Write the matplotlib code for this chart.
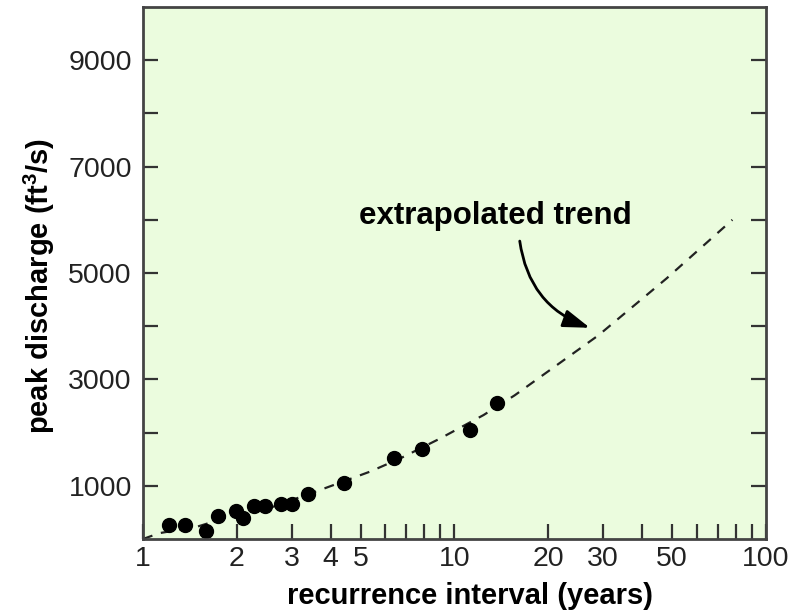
import numpy as np
import matplotlib
matplotlib.use('Agg')
import matplotlib.pyplot as plt

plt.rcParams['font.family'] = ['Liberation Sans', 'DejaVu Sans']
plt.rcParams['mathtext.fontset'] = 'custom'
plt.rcParams['mathtext.bf'] = 'Liberation Sans:bold'

# observed floods: recurrence interval (years) and peak discharge (ft3/s)
interval = [1.21, 1.36, 1.59, 1.74, 1.99, 2.09, 2.28, 2.47, 2.77, 3.02,
            3.39, 4.43, 6.39, 7.88, 11.2, 13.7]
discharge = [263, 263, 156, 438, 532, 400, 626, 626, 652, 652,
             846, 1047, 1528, 1686, 2050, 2551]

# dashed trend line
trend_x = [1.0, 1.13, 1.49, 1.9, 2.6, 3.7, 5.35, 6.7, 9.0, 12.4, 15.6, 29, 48, 78]
trend_y = [0, 110, 230, 420, 600, 920, 1265, 1515, 1890, 2330, 2700, 3830, 4900, 6000]

xtick_major = [1, 2, 3, 4, 5, 10, 20, 30, 50, 100]
xtick_minor = [6, 7, 8, 9, 40, 60, 70, 80, 90]
ytick_major = [1000, 3000, 5000, 7000, 9000]
ytick_minor = [2000, 4000, 6000, 8000]

fig = plt.figure(figsize=(7.96, 6.15), dpi=100)
ax = fig.add_axes([0.1796, 0.1236, 0.7827, 0.865])
ax.set_facecolor('#ebfcde')

ax.plot(trend_x, trend_y, '--', color='#222222', lw=1.6, dashes=(4.5, 4))
ax.plot(interval, discharge, 'o', color='black', ms=10)

ax.set_xscale('log')
ax.set_xlim(1, 100)
ax.set_ylim(0, 10000)

ax.set_xticks(xtick_major)
ax.set_xticklabels([str(v) for v in xtick_major])
ax.set_xticks(xtick_minor, minor=True)
ax.set_yticks(ytick_major)
ax.set_yticklabels([str(v) for v in ytick_major])
ax.set_yticks(ytick_minor, minor=True)

for which in ['major', 'minor']:
    ax.tick_params(axis='x', which=which, direction='in', length=11, width=1.6,
                   color='#333333', labelsize=20.5, labelcolor='#222222', pad=5)
    ax.tick_params(axis='y', which=which, direction='in', length=11, width=1.6,
                   color='#333333', labelsize=20.5, labelcolor='#222222', pad=8,
                   right=True)

for s in ax.spines.values():
    s.set_linewidth(2)
    s.set_color('#444444')

ax.set_xlabel('recurrence interval (years)', fontsize=21, fontweight='bold', labelpad=7)
ax.set_ylabel(r'peak discharge (ft$^{\mathbf{3}}$/s)', fontsize=21, fontweight='bold', labelpad=8)
ax.xaxis.label.set_x(0.525)
ax.yaxis.label.set_y(0.475)

ax.text(13.5, 6070, 'extrapolated trend', fontsize=22.5, fontweight='bold',
        ha='center', va='center')
ax.annotate('', xy=(27.2, 3970), xytext=(16.2, 5600),
            arrowprops=dict(arrowstyle='-|>,head_length=0.9,head_width=0.3',
                            connectionstyle='arc3,rad=0.3', color='black', lw=2,
                            mutation_scale=18, shrinkA=0, shrinkB=0))

plt.savefig('out.png', dpi=100)
